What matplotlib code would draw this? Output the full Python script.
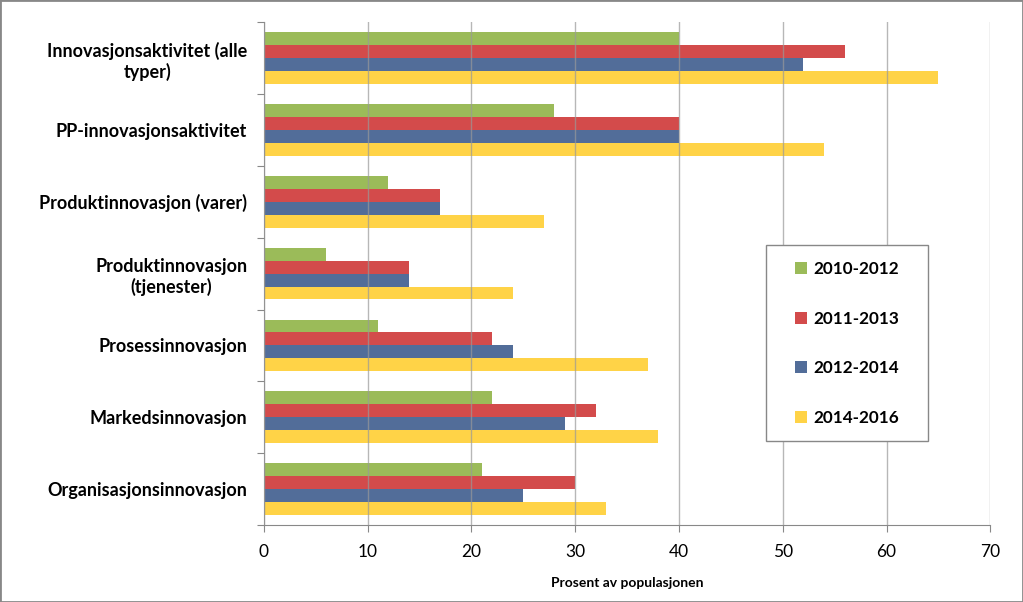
import numpy as np
import matplotlib.pyplot as plt

categories = ["Innovasjonsaktivitet (alle\ntyper)", "PP-innovasjonsaktivitet",
              "Produktinnovasjon (varer)", "Produktinnovasjon\n(tjenester)",
              "Prosessinnovasjon", "Markedsinnovasjon", "Organisasjonsinnovasjon"]
series = ["2010-2012", "2011-2013", "2012-2014", "2014-2016"]
v_2010_2012 = [40, 28, 12, 6, 11, 22, 21]
v_2011_2013 = [56, 40, 17, 14, 22, 32, 30]
v_2012_2014 = [52, 40, 17, 14, 24, 29, 25]
v_2014_2016 = [65, 54, 27, 24, 37, 38, 33]
values = [v_2010_2012, v_2011_2013, v_2012_2014, v_2014_2016]
colors = ["#9BBB59", "#D34B4B", "#526D99", "#FFD347"]

plt.rcParams['font.family'] = ['Lato', 'DejaVu Sans']

fig = plt.figure(figsize=(10.23, 6.02), dpi=100)
ax = fig.add_axes([0.258, 0.128, 0.710, 0.835])

y = np.arange(len(categories))
h = 0.18
for i, (name, vals) in enumerate(zip(series, values)):
    ax.barh(y + (i - 1.5) * h, vals, height=h, color=colors[i], label=name, zorder=2)

ax.set_xlim(0, 70)
ax.set_ylim(len(categories) - 0.5, -0.5)
ax.set_xticks(range(0, 71, 10))
ax.tick_params(axis='x', labelsize=12.5, length=5, color='#888888', pad=9)
ax.xaxis.grid(True, color='#999999', linewidth=1, alpha=0.7, zorder=3)
ax.set_axisbelow(False)

ax.set_yticks(np.arange(-0.5, len(categories), 1))
ax.set_yticklabels([])
ax.set_yticks(y, minor=True)
ax.set_yticklabels(categories, minor=True, fontsize=13, fontweight='bold')
for t in ax.get_yticklabels(minor=True):
    t.set_multialignment('center')
ax.tick_params(axis='y', which='major', length=5, color='#888888')
ax.tick_params(axis='y', which='minor', length=0, pad=12)

ax.spines['top'].set_visible(False)
ax.spines['right'].set_visible(False)
ax.spines['left'].set_color('#888888')
ax.spines['bottom'].set_color('#888888')

ax.set_xlabel("Prosent av populasjonen", fontsize=10, fontweight='bold', labelpad=12)

# legend box drawn separately so it can be wider than the entries
ax.add_patch(plt.Rectangle((0.691, 0.167), 0.223, 0.39, transform=ax.transAxes,
                           facecolor='white', edgecolor='#888888', linewidth=1,
                           zorder=4, clip_on=False))
leg = ax.legend(loc='center', bbox_to_anchor=(0.803, 0.361), frameon=False,
                labelspacing=1.97, handlelength=0.7, handleheight=0.7,
                handletextpad=0.4, borderpad=0, borderaxespad=0,
                prop={'family': ['Lato', 'DejaVu Sans'], 'weight': 'bold', 'size': 12.3})
leg.set_zorder(5)

fig.patches.append(plt.Rectangle((0, 0), 1, 1, transform=fig.transFigure,
                                 fill=False, edgecolor='#888888', linewidth=2))

fig.savefig("out.png", dpi=100)
